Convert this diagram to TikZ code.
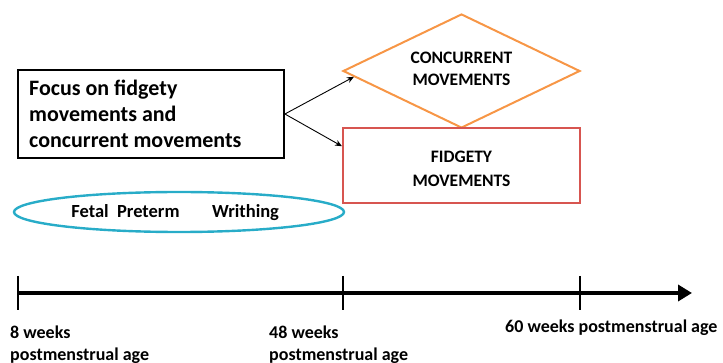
\documentclass[tikz,border=0pt]{standalone}
\usepackage{fontspec}
\setmainfont{Carlito}
\usetikzlibrary{shapes.geometric,arrows.meta,calc}
\definecolor{borange}{RGB}{247,150,70}
\definecolor{bred}{RGB}{215,85,80}
\definecolor{bteal}{RGB}{40,172,200}
\tikzset{
  big/.style={font=\bfseries\fontsize{22}{26}\selectfont, inner sep=0pt, anchor=base west},
  mid/.style={font=\bfseries\fontsize{17.5}{22}\selectfont, inner sep=0pt, anchor=base},
  lab/.style={font=\bfseries\fontsize{18}{22}\selectfont, inner sep=0pt, anchor=base west},
  conn/.style={-{Stealth[length=7pt,width=6pt]}, line width=0.9pt},
  tick/.style={line width=1.6pt},
}
\begin{document}
\begin{tikzpicture}[x=1pt,y=-1pt]
\useasboundingbox (0,0) rectangle (723,363);
% focus box
\node[draw, line width=1.8pt, minimum width=266pt, minimum height=88pt, inner sep=0pt] (focus) at (151,114) {};
\node[big] (f1) at (29,96) {Focus on fidgety};
\node[big] (f2) at (29,122) {movements and};
\node[big] (f3) at (29,148) {concurrent movements};
% diamond
\node[diamond, draw=borange, line width=2pt, minimum width=237pt, minimum height=114pt, inner sep=0pt, aspect=2.08] (conc) at (461.5,71) {};
\node[mid] (c1) at (461.5,64) {CONCURRENT};
\node[mid] (c2) at (461.5,86) {MOVEMENTS};
% fidgety box
\node[draw=bred, line width=2pt, minimum width=237pt, minimum height=75pt, inner sep=0pt] (fid) at (461.5,165.5) {};
\node[mid] (d1) at (461.5,163) {FIDGETY};
\node[mid] (d2) at (461.5,187) {MOVEMENTS};
% connectors
\draw[conn] (focus.east) -- ($(conc.west)!0.1!(conc.south)$);
\draw[conn] (focus.east) -- ($(fid.north west)!0.25!(fid.south west)$);
% ellipse
\node[ellipse, draw=bteal, line width=2.4pt, minimum width=330pt, minimum height=40pt, inner sep=0pt] (phase) at (179,212) {};
\node[mid, font=\bfseries\fontsize{18.5}{22}\selectfont] (fetal) at (125.5,218) {Fetal\ \ Preterm};
\node[mid, font=\bfseries\fontsize{18.5}{22}\selectfont] (writh) at (245.5,218) {Writhing};
% timeline
\coordinate (t0) at (18,293);
\coordinate (t1) at (343,293);
\coordinate (t2) at (580,293);
\coordinate (tend) at (692,293);
\draw[line width=4pt, -{Stealth[length=14pt,width=16pt,inset=0pt]}] (t0) -- (tend);
\foreach \t in {t0,t1,t2} \draw[tick] ($(\t)+(0,-17)$) -- ($(\t)+(0,17)$);
% labels
\node[lab] (l8a) at (10,338) {8 weeks};
\node[lab] (l8b) at (10,360) {postmenstrual age};
\node[lab] (l48a) at (269,338) {48 weeks};
\node[lab] (l48b) at (269,360) {postmenstrual age};
\node[lab] (l60) at (505,333) {60 weeks postmenstrual age};
\end{tikzpicture}
\end{document}
